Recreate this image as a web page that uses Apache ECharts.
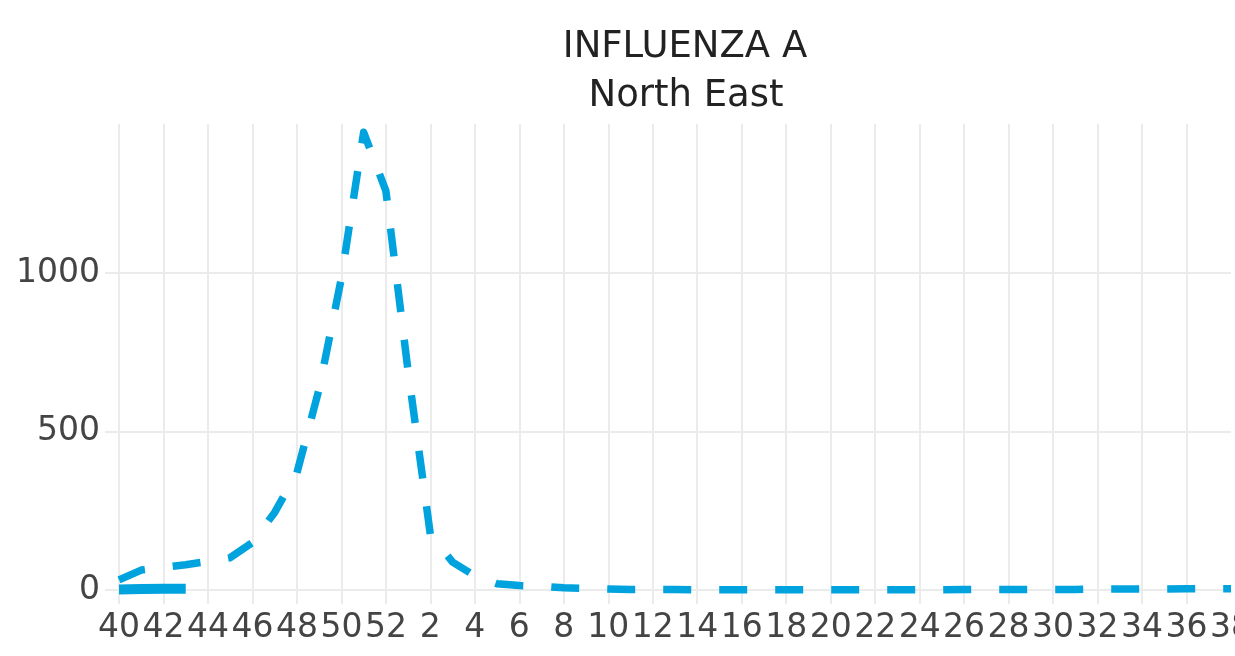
<!DOCTYPE html>
<html>
<head>
<meta charset="utf-8">
<title>Influenza A - North East</title>
<script src="https://cdn.jsdelivr.net/npm/echarts@6/dist/echarts.min.js"></script>
<style>
  html, body { margin: 0; padding: 0; background: #fff; }
  #chart { width: 1235px; height: 656px; }
</style>
</head>
<body>
<div id="chart"></div>
<script>
// surveillance weeks, season starts at week 40
const weeks = ['40', '41', '42', '43', '44', '45', '46', '47', '48', '49', '50', '51', '52',
  '1', '2', '3', '4', '5', '6', '7', '8', '9', '10', '11', '12', '13', '14', '15', '16',
  '17', '18', '19', '20', '21', '22', '23', '24', '25', '26', '27', '28', '29', '30',
  '31', '32', '33', '34', '35', '36', '37', '38']

// previous season (dashed)
const previousSeason = [32, 63, 72, 80, 90, 102, 150, 245, 370, 635, 985, 1445, 1260,
  690, 175, 88, 45, 20, 14, 12, 7, 5, 3, 2, 2, 2, 1, 1, 1,
  1, 1, 1, 1, 1, 1, 1, 1, 1, 2, 2, 2, 2, 2,
  2, 3, 3, 3, 3, 4, 4, 4]

// current season (solid)
const currentSeason = [2, 3, 4, 4]

const yTicks = [0, 500, 1000]

const lineColor = '#00a3de'
const gridColor = '#ebebeb'
const font = '"DejaVu Sans", Verdana, sans-serif'

const chart = echarts.init(document.getElementById('chart'))

// only every second week gets a gridline, the last one falls outside the plot
const everyOther = function (index) {
  return index % 2 === 0 && index < 50
}

const option = {
  animation: false,
  backgroundColor: '#fff',
  grid: {
    left: 119,
    right: 4,
    top: 124,
    bottom: 59,
    outerBoundsMode: 'none'
  },
  graphic: [
    {
      type: 'text',
      x: 685,
      y: 47,
      style: {
        text: 'INFLUENZA A',
        fontFamily: font,
        fontSize: 37,
        fill: '#222',
        textAlign: 'center',
        textVerticalAlign: 'middle'
      }
    },
    {
      type: 'text',
      x: 686,
      y: 96,
      style: {
        text: 'North East',
        fontFamily: font,
        fontSize: 37,
        fill: '#222',
        textAlign: 'center',
        textVerticalAlign: 'middle'
      }
    }
  ],
  xAxis: {
    type: 'category',
    data: weeks,
    boundaryGap: false,
    axisLine: { show: false },
    axisTick: {
      show: true,
      interval: everyOther,
      length: 14,
      lineStyle: { color: gridColor, width: 2 }
    },
    axisLabel: {
      interval: function (index) { return index % 2 === 0 },
      margin: 15,
      fontFamily: font,
      fontSize: 33,
      color: '#444'
    },
    splitLine: {
      show: true,
      interval: everyOther,
      lineStyle: { color: gridColor, width: 2 }
    }
  },
  yAxis: {
    type: 'value',
    min: -22,
    max: 1471,
    axisLine: { show: false },
    axisTick: {
      show: true,
      customValues: yTicks,
      length: 14,
      lineStyle: { color: gridColor, width: 2 }
    },
    axisLabel: {
      customValues: yTicks,
      formatter: function (v) { return String(v) },
      margin: 19,
      fontFamily: font,
      fontSize: 33,
      color: '#444'
    },
    splitLine: {
      show: true,
      lineStyle: { color: gridColor, width: 2 }
    }
  },
  series: [
    {
      name: 'Previous season',
      type: 'line',
      data: previousSeason,
      symbol: 'none',
      lineStyle: {
        color: lineColor,
        width: 7.5,
        type: [28, 28],
        join: 'round'
      }
    },
    {
      name: 'Current season',
      type: 'line',
      data: currentSeason,
      symbol: 'none',
      lineStyle: {
        color: lineColor,
        width: 10
      }
    }
  ]
}

chart.setOption(option)
</script>
</body>
</html>
